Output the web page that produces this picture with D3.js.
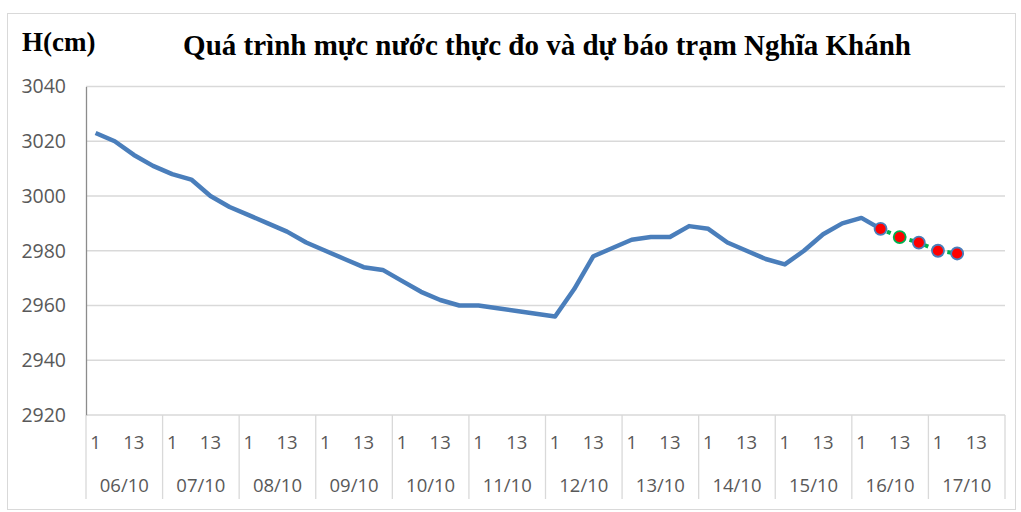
<!DOCTYPE html>
<html>
<head>
<meta charset="utf-8">
<script src="https://cdn.jsdelivr.net/npm/d3@7"></script>
<style>
  body { margin: 0; background: #fff; }
  svg { display: block; }
</style>
</head>
<body>
<div id="chart"></div>
<script>
// Data
const days = ["06/10", "07/10", "08/10", "09/10", "10/10", "11/10", "12/10", "13/10", "14/10", "15/10", "16/10", "17/10"];
const hours = [1, 7, 13, 19];
const shownHours = [1, 13];
const yTicks = [2920, 2940, 2960, 2980, 3000, 3020, 3040];

// Observed water level, 4 readings a day starting 06/10 1h
const observed = [3023, 3020, 3015, 3011, 3008, 3006, 3000, 2996, 2993, 2990, 2987, 2983,
  2980, 2977, 2974, 2973, 2969, 2965, 2962, 2960, 2960, 2959, 2958, 2957,
  2956, 2966, 2978, 2981, 2984, 2985, 2985, 2989, 2988, 2983, 2980, 2977,
  2975, 2980, 2986, 2990, 2992, 2988];
// Forecast, starting at the last observed reading (16/10 7h)
const forecast = [2988, 2985, 2983, 2980, 2979];
const forecastStart = 41;

const title = "Quá trình mực nước thực đo và dự báo trạm Nghĩa Khánh";
const yTitle = "H(cm)";

/************************************
 * Draw chart
 ************************************/
const w = 1021;
const h = 512;
const padLeft = 86, padRight = 1005, padTop = 86.5, padBottom = 415;

const slots = days.flatMap(d => hours.map(hr => d + "|" + hr));

const xScale = d3.scaleBand().domain(slots).range([padLeft, padRight]);
const dayScale = d3.scaleBand().domain(days).range([padLeft, padRight]);
const yScale = d3.scaleLinear().domain([2920, 3040]).range([padBottom, padTop]);

const xPos = i => xScale(slots[i]) + xScale.bandwidth() / 2;

const svg = d3.select("#chart")
  .append("svg")
  .attr("width", w)
  .attr("height", h);

// outer frame
svg.append("rect")
  .attr("x", 7.5).attr("y", 13.5)
  .attr("width", 1008).attr("height", 496)
  .attr("fill", "none")
  .attr("stroke", "#d9d9d9");

// gridlines
svg.append("g")
  .selectAll("line")
  .data(yTicks)
  .enter()
  .append("line")
  .attr("x1", padLeft).attr("x2", padRight)
  .attr("y1", d => yScale(d)).attr("y2", d => yScale(d))
  .attr("stroke", "#d9d9d9")
  .attr("stroke-width", 1.3);

// y axis
const yAxis = d3.axisLeft(yScale).tickValues(yTicks).tickSize(0).tickPadding(20)
  .tickFormat(d3.format("d"));
const gy = svg.append("g")
  .attr("transform", "translate(" + padLeft + ",0)")
  .call(yAxis);
gy.select(".domain").attr("stroke", "#8c8c8c").attr("stroke-width", 1.3);
gy.selectAll("text")
  .attr("fill", "#595959")
  .style("font-family", "'Open Sans', sans-serif")
  .style("font-size", "19.5px");

// x axis : hour labels
const xAxis = d3.axisBottom(xScale).tickSize(0).tickPadding(0)
  .tickFormat(d => {
    const hr = +d.split("|")[1];
    return shownHours.includes(hr) ? hr : "";
  });
const gx = svg.append("g")
  .attr("transform", "translate(0," + padBottom + ")")
  .call(xAxis);
gx.select(".domain").remove();
gx.selectAll("text")
  .attr("y", 28)
  .attr("dy", "0.35em")
  .attr("fill", "#595959")
  .style("font-family", "'Open Sans', sans-serif")
  .style("font-size", "18.5px");

// day labels and separators
svg.append("g")
  .selectAll("text")
  .data(days)
  .enter()
  .append("text")
  .attr("x", d => dayScale(d) + dayScale.bandwidth() / 2)
  .attr("y", 486)
  .attr("dy", "0.35em")
  .attr("text-anchor", "middle")
  .attr("fill", "#595959")
  .style("font-family", "'Open Sans', sans-serif")
  .style("font-size", "18.5px")
  .text(d => d);

svg.append("g")
  .selectAll("line")
  .data(days.map(d => dayScale(d)).concat([padRight]))
  .enter()
  .append("line")
  .attr("x1", d => d).attr("x2", d => d)
  .attr("y1", padBottom).attr("y2", 499)
  .attr("stroke", "#d9d9d9")
  .attr("stroke-width", 1.3);

// observed line
const line = d3.line()
  .x(d => xPos(d.i))
  .y(d => yScale(d.v));

svg.append("path")
  .datum(observed.map((v, i) => ({ i: i, v: v })))
  .attr("d", line)
  .attr("fill", "none")
  .attr("stroke", "#4a7ebb")
  .attr("stroke-width", 4.5)
  .attr("stroke-linejoin", "round");

// forecast line + markers
const fc = forecast.map((v, k) => ({ i: forecastStart + k, v: v }));

svg.append("path")
  .datum(fc)
  .attr("d", line)
  .attr("fill", "none")
  .attr("stroke", "#00b050")
  .attr("stroke-width", 4)
  .attr("stroke-dasharray", "4,4")
  .attr("stroke-dashoffset", 1);

svg.append("g")
  .selectAll("circle")
  .data(fc)
  .enter()
  .append("circle")
  .attr("cx", d => xPos(d.i))
  .attr("cy", d => yScale(d.v))
  .attr("r", 6)
  .attr("fill", "#ff0000")
  .attr("stroke", (d, k) => k === 1 ? "#00b050" : "#4a7ebb")
  .attr("stroke-width", 1.8);

// titles
svg.append("text")
  .attr("x", 22)
  .attr("y", 51)
  .style("font-family", "'Liberation Serif', serif")
  .style("font-weight", "bold")
  .style("font-size", "27px")
  .text(yTitle);

svg.append("text")
  .attr("x", 547)
  .attr("y", 55)
  .attr("text-anchor", "middle")
  .style("font-family", "'Liberation Serif', serif")
  .style("font-weight", "bold")
  .style("font-size", "29px")
  .text(title);
</script>
</body>
</html>
